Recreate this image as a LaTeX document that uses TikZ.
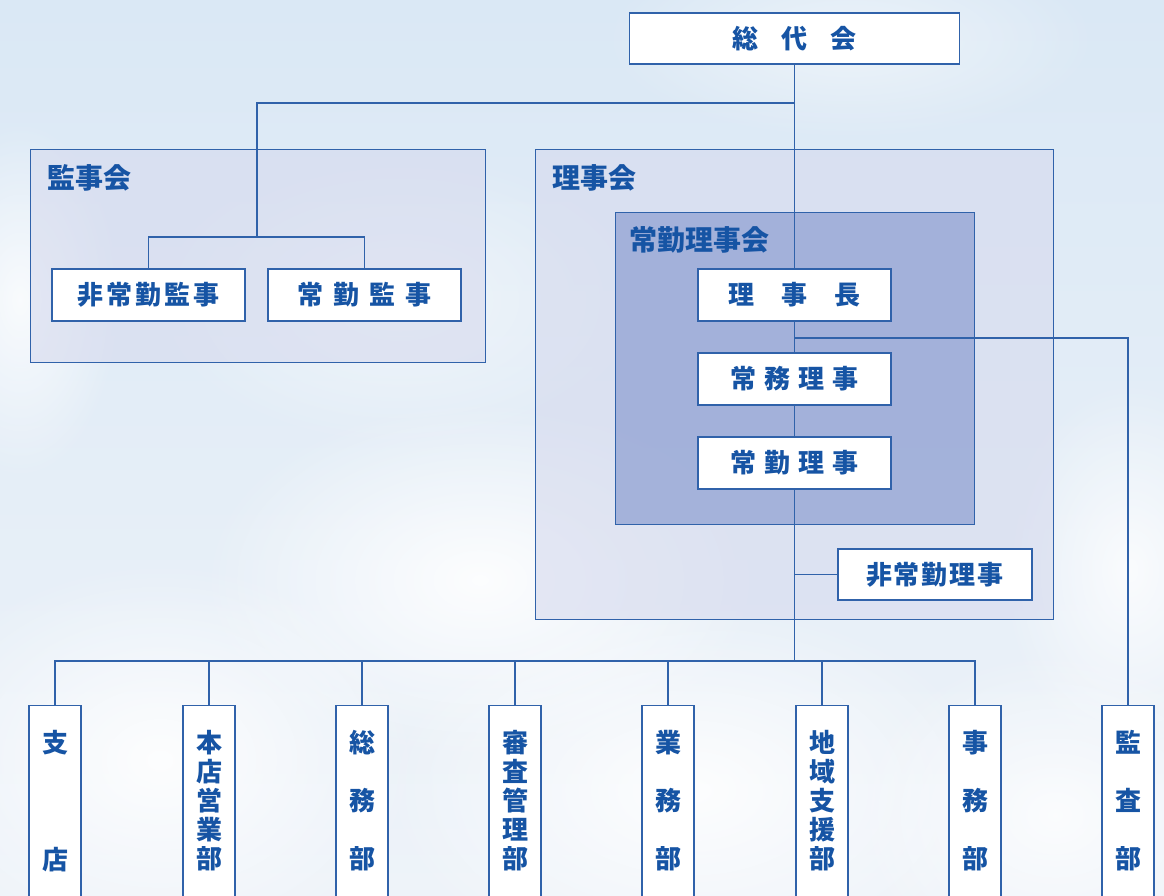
\documentclass[tikz,border=0pt]{standalone}
\usepackage{fontspec}
\setmainfont{Noto Sans CJK JP}
\usetikzlibrary{fadings}
\definecolor{tc}{RGB}{22,84,164}
\definecolor{lc}{RGB}{48,98,170}
\definecolor{skytop}{RGB}{218,232,245}
\definecolor{skybot}{RGB}{238,243,249}
\definecolor{kfill}{RGB}{214,218,238}
\definecolor{jfill}{RGB}{150,166,213}
\tikzfading[name=fuzzyc, inner color=transparent!0, outer color=transparent!100]
\pgfdeclarelayer{bgl}
\pgfdeclarelayer{mid}
\pgfsetlayers{bgl,mid,main}
\newcommand{\gp}[1]{\hspace{#1pt}}
\begin{document}
\begin{tikzpicture}[x=1pt,y=-1pt,
  font=\bfseries\fontsize{26}{29}\selectfont,
  ln/.style={draw=lc, line width=1.3pt},
  hbox/.style={draw=lc, line width=1.3pt, fill=white, text=tc, inner sep=0pt, minimum width=193pt, minimum height=52pt},
  vbox/.style={draw=lc, line width=1.3pt, fill=white, anchor=north, minimum width=52pt, minimum height=230pt, inner sep=0pt},
  vtxt/.style={text=tc, anchor=north, align=center, inner sep=0pt},
  grp/.style={draw=lc, line width=1pt},
  glab/.style={text=tc, anchor=west, inner sep=0pt, font=\bfseries\fontsize{28}{30}\selectfont}]
\useasboundingbox (0,0) rectangle (1164,895);
\clip (0,0) rectangle (1164,895);
% sky
\begin{pgfonlayer}{bgl}
\shade[top color=skytop, bottom color=skybot] (0,0) rectangle (1164,895);
\fill[white, opacity=0.8, path fading=fuzzyc] (-80,120) rectangle (120,480);
\fill[white, opacity=0.9, path fading=fuzzyc] (200,400) rectangle (760,760);
\fill[white, opacity=0.9, path fading=fuzzyc] (-100,560) rectangle (420,960);
\fill[white, opacity=0.9, path fading=fuzzyc] (380,600) rectangle (1000,980);
\fill[white, opacity=0.8, path fading=fuzzyc] (1000,380) rectangle (1260,760);
\fill[white, opacity=0.8, path fading=fuzzyc] (850,650) rectangle (1260,980);
\fill[white, opacity=0.5, path fading=fuzzyc] (150,150) rectangle (650,450);
\fill[white, opacity=0.5, path fading=fuzzyc] (600,-60) rectangle (1100,140);
% groups
\path[grp, fill=kfill, fill opacity=0.6] (30,149) rectangle (485,362);
\path[grp, fill=kfill, fill opacity=0.6] (535,149) rectangle (1053,619);
\path[grp, fill=jfill, fill opacity=0.8] (615,212) rectangle (974,524);
\end{pgfonlayer}
\node[glab] (lkansa) at (47,178) {監事会};
\node[glab] (lriji) at (552,178) {理事会};
\node[glab] (ljokin) at (629,240) {常勤理事会};
% top
\node[hbox, minimum width=330pt, minimum height=51pt] (sodai) at (794.5,38.5) {総\gp{23}代\gp{23}会};
% auditors
\node[hbox] (k1) at (148.5,295) {非\gp{3}常\gp{3}勤\gp{3}監\gp{3}事};
\node[hbox] (k2) at (364.5,295) {常\gp{10}勤\gp{10}監\gp{10}事};
% directors
\node[hbox] (r1) at (794.5,295) {理\gp{27}事\gp{27}長};
\node[hbox] (r2) at (794.5,379) {常\gp{8}務\gp{8}理\gp{8}事};
\node[hbox] (r3) at (794.5,463) {常\gp{8}勤\gp{8}理\gp{8}事};
\node[hbox, minimum width=194pt, minimum height=51pt] (hr) at (935,574.5) {非\gp{2}常\gp{2}勤\gp{2}理\gp{2}事};
% departments
\foreach \n/\x in {b1/55,b2/209,b3/362,b4/515,b5/668,b6/822,b7/975,b8/1128}
  \node[vbox] (\n) at (\x,705) {};
\node[vtxt] (t1) at (55,730) {支\\[88pt]店};
\node[vtxt] (t2) at (209,730) {本\\店\\営\\業\\部};
\node[vtxt] (t3) at (362,730) {総\\[29pt]務\\[29pt]部};
\node[vtxt] (t4) at (515,730) {審\\査\\管\\理\\部};
\node[vtxt] (t5) at (668,730) {業\\[29pt]務\\[29pt]部};
\node[vtxt] (t6) at (822,730) {地\\域\\支\\援\\部};
\node[vtxt] (t7) at (975,730) {事\\[29pt]務\\[29pt]部};
\node[vtxt] (t8) at (1128,730) {監\\[29pt]査\\[29pt]部};
% connectors
\coordinate (jk) at (257,103);
\coordinate (kbar) at (257,237);
\coordinate (aud) at (794.5,338);
\coordinate (busL) at (55,661);
\begin{pgfonlayer}{mid}
\draw[ln] (sodai.south) -- (sodai.south |- busL);
\draw[ln] (sodai.south |- jk) -- (jk) -- (kbar);
\draw[ln] (k1.north) |- (kbar) -| (k2.north);
\draw[ln] (aud) -| (b8.north);
\draw[ln] (hr.west) -- (hr.west -| sodai.south);
\draw[ln] (b1.north) |- (b7.north |- busL) -- (b7.north);
\foreach \n in {b2,b3,b4,b5,b6}
  \draw[ln] (\n.north) -- (\n.north |- busL);
\end{pgfonlayer}
\end{tikzpicture}
\end{document}
